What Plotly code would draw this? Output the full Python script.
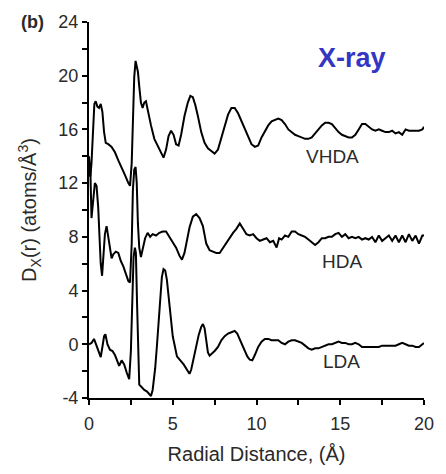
import plotly.graph_objects as go

# ---------------- data ----------------
vhda_x = [0, 0.08, 0.15, 0.25, 0.32, 0.4, 0.5, 0.6, 0.7, 0.8, 0.9, 1.0, 1.15, 1.35, 1.55, 1.75, 1.95,
          2.15, 2.35, 2.45, 2.55, 2.62, 2.7, 2.78, 2.85, 2.92, 3.0, 3.1, 3.2, 3.3, 3.4, 3.5, 3.7, 3.9,
          4.1, 4.3, 4.45, 4.6, 4.75, 4.9, 5.05, 5.2, 5.35, 5.5, 5.7, 5.9, 6.05, 6.2, 6.35, 6.5, 6.7,
          6.9, 7.1, 7.3, 7.5, 7.7, 7.9, 8.1, 8.3, 8.5, 8.7, 8.9, 9.1, 9.3, 9.5, 9.7, 9.9, 10.1, 10.3,
          10.5, 10.7, 10.9, 11.1, 11.3, 11.5, 11.7, 11.9, 12.1, 12.3, 12.5, 12.7, 12.9, 13.1, 13.3,
          13.5, 13.7, 13.9, 14.1, 14.3, 14.5, 14.7, 14.9, 15.1, 15.3, 15.5, 15.7, 15.9, 16.1, 16.3,
          16.5, 16.7, 16.9, 17.1, 17.3, 17.5, 17.7, 17.9, 18.1, 18.3, 18.5, 18.7, 18.9, 19.1, 19.3,
          19.5, 19.7, 19.9, 20.0]
vhda_y = [14.0, 12.5, 13.5, 16.8, 17.9, 18.1, 17.7, 17.6, 17.9, 17.3, 15.8, 15.0, 14.9, 14.7, 14.3,
          13.7, 13.2, 12.6, 12.0, 11.8, 13.5, 17.0, 19.9, 21.1, 20.8, 20.3, 19.2, 18.0, 17.6, 18.0,
          18.1, 17.4, 16.3, 15.3, 14.8, 14.2, 13.9, 14.5, 15.5, 15.9, 15.6, 14.9, 14.8, 15.6, 17.0,
          18.0, 18.5, 18.4, 17.8, 17.0, 15.8, 15.0, 14.6, 14.4, 14.2, 14.5, 15.4, 16.3, 17.1, 17.6,
          17.6, 17.2, 16.6, 16.0, 15.4, 14.9, 14.7, 14.8, 15.4, 15.9, 16.3, 16.6, 16.7, 16.8, 16.7,
          16.4, 16.0, 15.8, 15.6, 15.5, 15.4, 15.3, 15.3, 15.4, 15.7, 16.0, 16.3, 16.5, 16.5, 16.4,
          16.1, 15.8, 15.6, 15.5, 15.4, 15.4, 15.6, 16.0, 16.4, 16.4, 16.2, 16.0, 15.9, 16.0, 15.9,
          15.8, 15.8, 15.9, 15.7, 15.8, 15.6, 16.0, 15.9, 15.9, 15.9, 15.9, 16.0, 16.2]

hda_x = [0, 0.08, 0.15, 0.25, 0.35, 0.45, 0.55, 0.62, 0.7, 0.78, 0.85, 0.95, 1.05, 1.15, 1.25, 1.35,
         1.45, 1.6, 1.75, 1.9, 2.05, 2.2, 2.35, 2.45, 2.55, 2.62, 2.7, 2.78, 2.85, 2.92, 3.0, 3.1,
         3.2, 3.35, 3.5, 3.65, 3.8, 4.0, 4.2, 4.4, 4.6, 4.8, 5.0, 5.2, 5.4, 5.55, 5.7, 5.85, 6.0,
         6.2, 6.4, 6.6, 6.8, 7.0, 7.2, 7.4, 7.6, 7.8, 8.0, 8.2, 8.4, 8.6, 8.8, 9.0, 9.2, 9.4, 9.6,
         9.8, 10.0, 10.2, 10.4, 10.6, 10.8, 11.0, 11.2, 11.35, 11.5, 11.7, 11.9, 12.1, 12.3, 12.5,
         12.7, 12.9, 13.1, 13.3, 13.5, 13.7, 13.9, 14.1, 14.3, 14.5, 14.7, 14.9, 15.1, 15.3, 15.5,
         15.7, 15.9, 16.1, 16.3, 16.5, 16.7, 16.9, 17.1, 17.3, 17.5, 17.7, 17.9, 18.1, 18.3, 18.5,
         18.7, 18.9, 19.1, 19.3, 19.5, 19.7, 19.9, 20.0]
hda_y = [12.5, 13.0, 9.4, 11.0, 12.0, 11.8, 10.2, 8.2, 6.0, 5.1, 6.5, 8.2, 8.8, 8.0, 7.0, 6.4, 6.7,
         6.9, 6.8, 6.2, 5.8, 5.3, 4.7, 4.6, 7.5, 11.5, 13.0, 13.2, 12.0, 9.0, 7.2, 6.5, 7.0, 7.9,
         8.3, 8.0, 8.2, 8.1, 8.3, 8.4, 8.4, 8.0, 7.6, 7.2, 6.6, 6.3, 6.8, 7.8, 8.7, 9.5, 9.7, 9.4,
         8.8, 7.5, 7.0, 6.9, 6.8, 6.8, 7.2, 7.6, 7.9, 8.3, 8.6, 9.0, 8.6, 8.2, 8.1, 8.2, 7.9, 7.7,
         7.8, 7.9, 7.6, 7.7, 7.2, 7.9, 7.8, 8.1, 8.0, 8.4, 8.4, 8.2, 8.1, 8.0, 7.8, 7.6, 7.4, 7.6,
         7.9, 7.9, 8.0, 8.0, 8.2, 8.3, 8.0, 8.2, 7.9, 8.0, 7.9, 8.0, 7.8, 7.9, 7.8, 8.0, 7.6, 8.1,
         7.7, 7.9, 8.1, 7.7, 8.1, 7.6, 8.1, 7.6, 8.2, 7.7, 8.1, 7.5, 8.1, 8.1]

lda_x = [0, 0.15, 0.3, 0.45, 0.6, 0.7, 0.8, 0.9, 0.98, 1.1, 1.25, 1.4, 1.55, 1.7, 1.8, 1.95, 2.1,
         2.25, 2.4, 2.5, 2.58, 2.66, 2.74, 2.8, 2.87, 2.93, 3.0, 3.15, 3.3, 3.45, 3.6, 3.7, 3.8,
         3.95, 4.05, 4.15, 4.25, 4.35, 4.45, 4.55, 4.65, 4.75, 4.85, 5.0, 5.1, 5.25, 5.45, 5.65,
         5.85, 6.0, 6.1, 6.25, 6.4, 6.55, 6.7, 6.8, 6.9, 7.0, 7.1, 7.2, 7.35, 7.5, 7.7, 7.9, 8.1,
         8.3, 8.5, 8.7, 8.85, 9.0, 9.15, 9.3, 9.45, 9.6, 9.75, 9.9, 10.1, 10.3, 10.5, 10.7, 10.9,
         11.1, 11.3, 11.5, 11.7, 11.9, 12.1, 12.3, 12.5, 12.7, 12.9, 13.1, 13.3, 13.5, 13.7, 13.9,
         14.1, 14.3, 14.5, 14.7, 14.9, 15.1, 15.3, 15.5, 15.7, 15.9, 16.1, 16.3, 16.5, 16.7, 16.9,
         17.1, 17.3, 17.5, 17.7, 17.9, 18.1, 18.3, 18.5, 18.7, 18.9, 19.1, 19.3, 19.5, 19.7, 19.9,
         20.0]
lda_y = [0.0, 0.1, 0.4, -0.1, -0.6, -0.95, -0.2, 0.6, 0.75, 0.0, -0.4, -0.5, -0.8, -1.3, -1.6,
         -1.2, -1.5, -2.1, -2.6, -0.5, 3.5, 6.5, 7.2, 6.8, 3.0, -1.0, -3.0, -3.2, -3.4, -3.5, -3.7,
         -3.85, -3.4, -1.8, -0.2, 1.8, 3.8, 5.0, 5.6, 5.5, 4.8, 3.5, 2.0, 0.6, 0.0, -0.9, -1.2,
         -1.5, -1.9, -2.2, -1.9, -1.0, -0.2, 0.7, 1.3, 1.5, 1.2, 0.2, -0.6, -0.85, -0.7, -0.5, -0.2,
         0.3, 0.6, 0.8, 0.9, 1.0, 0.8, 0.4, -0.1, -0.5, -0.9, -1.15, -1.2, -0.8, -0.2, 0.2, 0.4,
         0.4, 0.3, 0.3, 0.3, 0.1, 0.0, 0.2, 0.3, 0.3, 0.2, 0.1, -0.1, -0.3, -0.4, -0.3, -0.3, -0.2,
         -0.1, 0.0, 0.0, 0.1, 0.2, 0.1, 0.1, 0.0, 0.0, 0.1, 0.0, -0.2, -0.2, -0.2, -0.2, -0.2,
         -0.2, -0.1, -0.1, -0.1, -0.1, -0.1, 0.0, 0.1, 0.0, -0.1, -0.1, -0.2, -0.2, 0.0, 0.1]

series_names = ["VHDA", "HDA", "LDA"]
label_pos = [(14.55, 14.0), (15.1, 6.2), (15.05, -1.3)]

x_tickvals = [0, 5, 10, 15, 20]
x_ticktext = ["0", "5", "10", "15", "20"]
y_tickvals = [-4, 0, 4, 8, 12, 16, 20, 24]
y_ticktext = ["-4", "0", "4", "8", "12", "16", "20", "24"]

# ---------------- figure ----------------
FONT = "Liberation Sans, Arial, Helvetica, sans-serif"
TXT = "#2a2a2a"

fig = go.Figure()
for name, xs, ys in [("VHDA", vhda_x, vhda_y), ("HDA", hda_x, hda_y), ("LDA", lda_x, lda_y)]:
    fig.add_trace(go.Scatter(x=xs, y=ys, mode="lines", name=name,
                             line=dict(color="black", width=2), showlegend=False))

for name, (lx, ly) in zip(series_names, label_pos):
    fig.add_annotation(x=lx, y=ly, text=name, showarrow=False, xanchor="center", yanchor="middle",
                       font=dict(family=FONT, size=19, color=TXT))

fig.add_annotation(xref="paper", yref="paper", x=0.785, y=0.905, xanchor="center", yanchor="middle",
                   text="<b>X-ray</b>", showarrow=False,
                   font=dict(family=FONT, size=27, color="#3535c4"))
fig.add_annotation(xref="paper", yref="paper", x=-0.21, y=1.0, xanchor="left", yanchor="middle",
                   text="<b>(b)</b>", showarrow=False,
                   font=dict(family=FONT, size=18, color=TXT))

tick_font = dict(family=FONT, size=18, color=TXT)
title_font = dict(family=FONT, size=20, color=TXT)
fig.update_layout(
    width=446, height=474,
    margin=dict(l=89, r=12, t=15, b=74),
    paper_bgcolor="white", plot_bgcolor="white",
    font=tick_font,
    xaxis=dict(range=[0, 20], tickvals=x_tickvals, ticktext=x_ticktext,
               showgrid=False, zeroline=False, showline=True, linecolor="black", linewidth=2,
               ticks="outside", ticklen=5, tickwidth=2, tickcolor="black",
               ticklabelstandoff=3,
               minor=dict(dtick=2.5, ticks="outside", ticklen=5, tickwidth=2, tickcolor="black"),
               title=dict(text="Radial Distance, (Å)", standoff=14, font=title_font),
               tickfont=tick_font),
    yaxis=dict(range=[-4, 24], tickvals=y_tickvals, ticktext=y_ticktext,
               showgrid=False, zeroline=False, showline=True, linecolor="black", linewidth=2,
               ticks="outside", ticklen=5, tickwidth=2, tickcolor="black",
               minor=dict(tickvals=[-2, 2, 6, 10, 14, 18, 22], ticks="outside", ticklen=5,
                          tickwidth=2, tickcolor="black"),
               title=dict(text="D<sub>X</sub>(r) (atoms/Å<sup>3</sup>)", standoff=16, font=title_font),
               tickfont=tick_font),
)

fig.write_html("out.html")
